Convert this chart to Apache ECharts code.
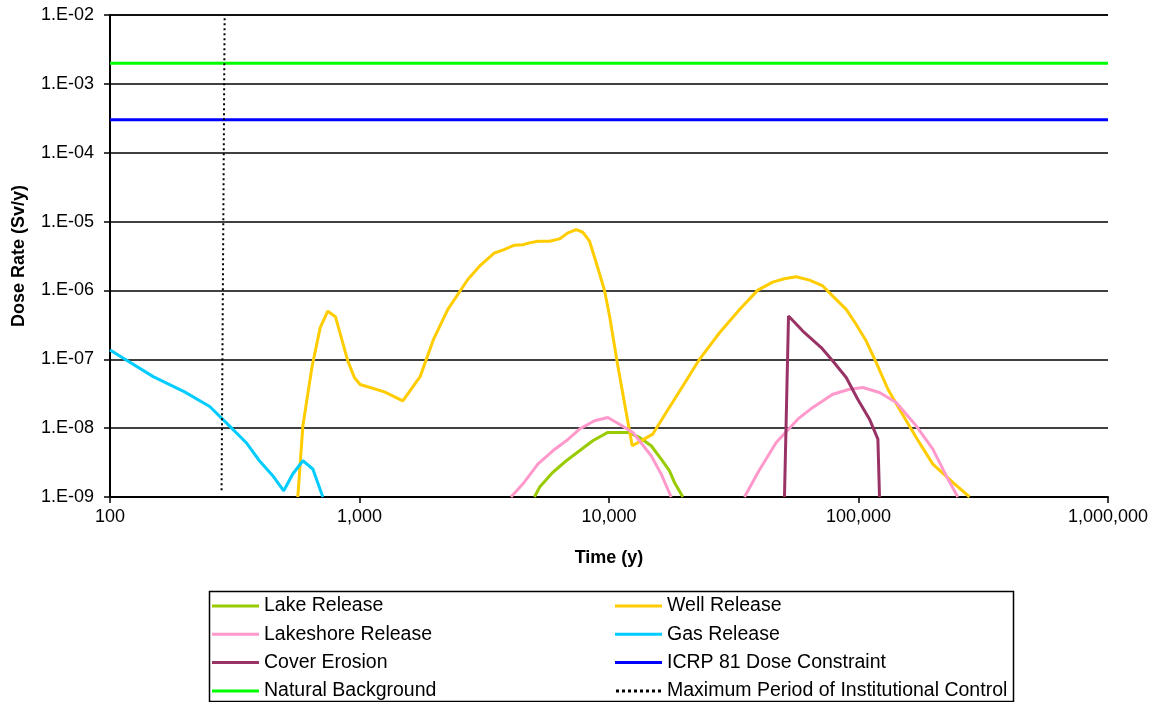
<!DOCTYPE html>
<html>
<head>
<meta charset="utf-8">
<script src="https://cdn.jsdelivr.net/npm/echarts@6/dist/echarts.min.js"></script>
<style>html,body{margin:0;padding:0;background:#fff;}#c{width:1165px;height:702px;}</style>
</head>
<body>
<div id="c"></div>
<script>
// x tick labels (years) and y tick labels
const xTicks = [100, 1000, 10000, 100000, 1000000];
const yTicks = ['1.E-09','1.E-08','1.E-07','1.E-06','1.E-05','1.E-04','1.E-03','1.E-02'];

// [time (y), dose rate (Sv/y)]
const lakeRelease = [[5025,1e-9],[5266,1.38e-9],[5955,2.28e-9],[6740,3.36e-9],[7620,4.69e-9],[8610,6.55e-9],[9890,8.67e-9],[11890,8.67e-9],[13250,7.33e-9],[14760,5.55e-9],[16190,3.56e-9],[17480,2.4e-9],[18300,1.63e-9],[19770,1e-9]];

const wellRelease = [[566,1e-9],[593,1.08e-8],[646,8e-8],[696,2.88e-7],[746,5e-7],[801,4.16e-7],[898,9.4e-8],[955,5.4e-8],[1006,4.3e-8],[1259,3.36e-8],[1491,2.49e-8],[1750,5.6e-8],[1980,1.95e-7],[2260,5.3e-7],[2717,1.44e-6],[3027,2.25e-6],[3475,3.5e-6],[3752,3.84e-6],[4180,4.54e-6],[4513,4.6e-6],[4800,4.9e-6],[5185,5.19e-6],[5776,5.19e-6],[6333,5.6e-6],[6840,6.85e-6],[7388,7.66e-6],[7853,7.0e-6],[8356,5.19e-6],[8888,2.52e-6],[9595,1e-6],[10050,4.25e-7],[10850,8e-8],[11720,1.69e-8],[12390,5.55e-9],[13660,6.76e-9],[14980,8.2e-9],[16950,1.69e-8],[19770,4.1e-8],[23050,1e-7],[27740,2.43e-7],[33370,5.3e-7],[39500,1.01e-6],[45300,1.32e-6],[50400,1.48e-6],[56250,1.58e-6],[63630,1.41e-6],[71940,1.16e-6],[78890,8.27e-7],[89270,5.3e-7],[97900,3.2e-7],[107400,1.84e-7],[117800,8.95e-8],[131200,3.67e-8],[146000,1.88e-8],[170300,7.33e-9],[198600,3e-9],[238800,1.63e-9],[278600,1e-9]];

const lakeshoreEarly = [[4047,1e-9],[4513,1.54e-9],[5185,3e-9],[5955,4.69e-9],[6740,6.55e-9],[7620,9.7e-9],[8750,1.28e-8],[9890,1.43e-8],[11020,1.14e-8],[12460,8.67e-9],[14760,3.97e-9],[16190,2.15e-9],[17750,1e-9]];
const lakeshoreLate = [[34910,1e-9],[39900,2.4e-9],[46800,6.2e-9],[57100,1.35e-8],[65580,2e-8],[78890,3.11e-8],[92000,3.67e-8],[104000,3.89e-8],[121400,3.29e-8],[141600,2.36e-8],[170300,1.08e-8],[198600,4.97e-9],[224600,2.04e-9],[250000,1e-9]];

const gasRelease = [[100,1.36e-7],[149,5.6e-8],[199,3.36e-8],[251,2.06e-8],[301,1.08e-8],[351,6.2e-9],[397,3.36e-9],[449,2.04e-9],[497,1.23e-9],[540,2.16e-9],[593,3.36e-9],[650,2.55e-9],[713,1e-9]];

const coverErosion = [[50500,1e-9],[52420,4.25e-7],[59800,2.57e-7],[70880,1.48e-7],[78890,9.45e-8],[89270,5.43e-8],[99300,2.63e-8],[110700,1.35e-8],[119600,6.93e-9],[121400,1e-9]];

const icrpConstraint = [[100,3e-4],[1000000,3e-4]];
const naturalBackground = [[100,2e-3],[1000000,2e-3]];
const institutionalControl = [[288,9e-3],[280,1.2e-9]];

const FONT = '"Liberation Sans", Arial, sans-serif';
const LEG_W = 47;

// legend icons: solid bar and dashed bar
const solidIcon = 'path://M0,0H47V3H0Z';
let dashPath = '';
for (let x = 0; x < 47; x += 6) { dashPath += 'M' + x + ',0H' + Math.min(x + 3, 47) + 'V3H' + x + 'Z'; }
const dashIcon = 'path://' + dashPath;

function line(name, data, color, width, type) {
  return {
    name: name, type: 'line', data: data, symbol: 'none', showSymbol: false,
    lineStyle: {color: color, width: width, type: type || 'solid'},
    itemStyle: {color: color}, clip: true, animation: false
  };
}
function legItem(name, dashed) {
  return {name: name, icon: dashed ? dashIcon : solidIcon};
}
const legendCommon = {
  orient: 'vertical', top: 596, padding: 0, itemGap: 8.3,
  itemWidth: LEG_W, itemHeight: 3, height: 110, selectedMode: false,
  textStyle: {fontFamily: FONT, fontSize: 19.5, color: '#000', lineHeight: 20, padding: [0, 0, 0, 0]}
};

const chart = echarts.init(document.getElementById('c'));
chart.setOption({
  backgroundColor: '#fff',
  animation: false,
  grid: {left: 110, right: 57, top: 15, bottom: 205, containLabel: false},
  xAxis: {
    type: 'log', logBase: 10, min: 100, max: 1000000,
    name: 'Time (y)', nameLocation: 'middle', nameGap: 52,
    nameTextStyle: {fontFamily: FONT, fontSize: 18, fontWeight: 'bold', color: '#000'},
    axisLine: {show: true, lineStyle: {color: '#000', width: 2}},
    axisTick: {show: true, length: 6, lineStyle: {color: '#000', width: 1.5}},
    splitLine: {show: false},
    minorTick: {show: false},
    axisLabel: {
      fontFamily: FONT, fontSize: 18, color: '#000', margin: 11,
      formatter: function (v) {
        const r = Math.round(v);
        return xTicks.indexOf(r) >= 0 ? r.toLocaleString('en-US') : '';
      }
    }
  },
  yAxis: {
    type: 'log', logBase: 10, min: 1e-9, max: 1e-2,
    name: 'Dose Rate (Sv/y)', nameLocation: 'middle', nameGap: 82, nameRotate: 90,
    nameTextStyle: {fontFamily: FONT, fontSize: 18, fontWeight: 'bold', color: '#000'},
    axisLine: {show: true, lineStyle: {color: '#000', width: 2}},
    axisTick: {show: true, length: 6, lineStyle: {color: '#000', width: 1.5}},
    splitLine: {show: true, lineStyle: {color: '#000', width: 1.5}},
    axisLabel: {
      fontFamily: FONT, fontSize: 18, color: '#000', margin: 16,
      formatter: function (v) {
        const e = Math.round(Math.log10(v));
        return yTicks[e + 9] || '';
      }
    }
  },
  legend: [
    Object.assign({}, legendCommon, {
      left: 212,
      data: [legItem('Lake Release'), legItem('Lakeshore Release'), legItem('Cover Erosion'), legItem('Natural Background')]
    }),
    Object.assign({}, legendCommon, {
      left: 615,
      data: [legItem('Well Release'), legItem('Gas Release'), legItem('ICRP 81 Dose Constraint'), legItem('Maximum Period of Institutional Control', true)]
    })
  ],
  graphic: [{
    type: 'rect', left: 207, top: 589, z: 0,
    shape: {width: 804, height: 110},
    style: {fill: 'none', stroke: '#000', lineWidth: 1.5}
  }],
  series: [
    line('Lake Release', lakeRelease, '#99CC00', 3),
    line('Well Release', wellRelease, '#FFCC00', 3),
    line('Lakeshore Release', lakeshoreEarly, '#FF99CC', 3),
    line('Lakeshore Release', lakeshoreLate, '#FF99CC', 3),
    line('Gas Release', gasRelease, '#00CCFF', 3),
    line('Cover Erosion', coverErosion, '#993366', 3),
    line('ICRP 81 Dose Constraint', icrpConstraint, '#0000FF', 3),
    line('Natural Background', naturalBackground, '#00FF00', 3),
    line('Maximum Period of Institutional Control', institutionalControl, '#000000', 2, [2, 3])
  ]
});
</script>
</body>
</html>
